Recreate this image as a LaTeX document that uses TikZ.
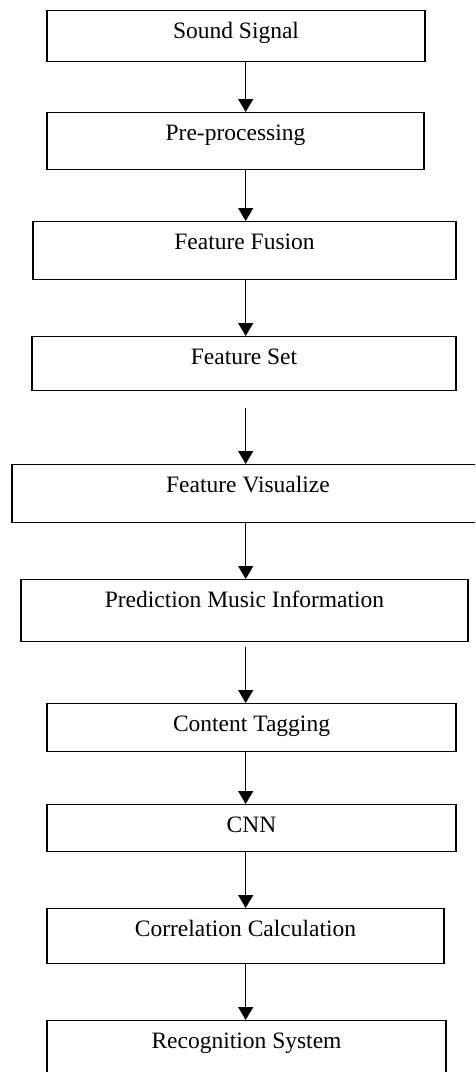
\documentclass[tikz,border=0pt]{standalone}
\usepackage{fontspec}
\setmainfont{Liberation Serif}
\usetikzlibrary{arrows.meta}

\tikzset{
    box/.style={draw, line width=1.2pt, inner sep=0pt, anchor=north,
        text height=28pt, font=\fontsize{23.5}{28}\selectfont},
    flow/.style={line width=1.2pt, -{Triangle[width=15pt,length=13pt]}}
}

\begin{document}
\begin{tikzpicture}[x=1pt, y=-1pt]
        \useasboundingbox (0, 0) rectangle (475, 1072);
        \clip (0, 0) rectangle (475, 1072);

        \coordinate (axis) at (245.7, 0);

        \node[box, minimum width=378pt, text depth=23pt] (ss) at (236, 10) {Sound Signal};
        \node[box, minimum width=377pt, text depth=29pt] (pp) at (235.5, 112) {Pre-processing};
        \node[box, minimum width=423pt, text depth=30pt] (ff) at (244.5, 221) {Feature Fusion};
        \node[box, minimum width=424pt, text depth=26pt] (fs) at (244, 336) {Feature Set};
        \node[box, minimum width=472pt, text depth=30pt] (fv) at (248, 464) {Feature Visualize};
        \node[box, minimum width=447pt, text depth=34pt] (pm) at (244.5, 579) {Prediction Music Information};
        \node[box, minimum width=409pt, text depth=20pt] (ct) at (251.5, 703) {Content Tagging};
        \node[box, minimum width=409pt, text depth=19pt] (cnn) at (251.5, 804) {CNN};
        \node[box, minimum width=397pt, text depth=27pt] (cc) at (245.5, 908) {Correlation Calculation};
        \node[box, minimum width=399pt, text depth=40pt] (rs) at (246.5, 1020) {Recognition System};

        \foreach \a/\b in {ss/pp, pp/ff, ff/fs, fv/pm, ct/cnn, cnn/cc, cc/rs} {
            \draw[flow] (\a.south -| axis) -- (\b.north -| axis);
        }

        \draw[flow, shorten <=17pt] (fs.south -| axis) -- (fv.north -| axis);
        \draw[flow, shorten <=5pt] (pm.south -| axis) -- (ct.north -| axis);
    \end{tikzpicture}
\end{document}
